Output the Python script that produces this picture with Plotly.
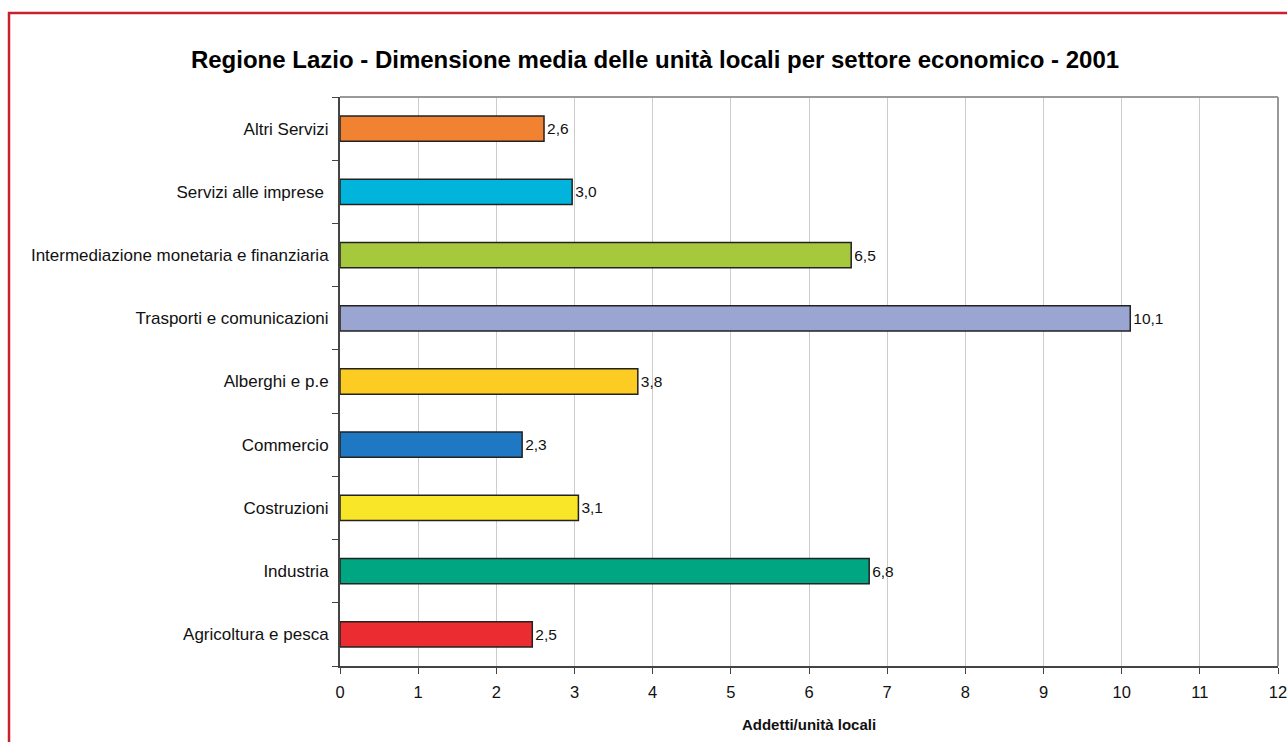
import plotly.graph_objects as go

categories = ["Agricoltura e pesca", "Industria", "Costruzioni", "Commercio",
              "Alberghi e p.e", "Trasporti e comunicazioni",
              "Intermediazione monetaria e finanziaria", "Servizi alle imprese ", "Altri Servizi"]
values = [2.46, 6.77, 3.05, 2.33, 3.81, 10.11, 6.54, 2.97, 2.61]
labels = ["2,5", "6,8", "3,1", "2,3", "3,8", "10,1", "6,5", "3,0", "2,6"]
colors = ["#EB2D32", "#00A582", "#FAE628", "#1E78C3", "#FCCC23",
          "#9BA5D2", "#A5C83C", "#00B4DC", "#F08232"]
x_ticks = list(range(0, 13))

W, H = 1287, 742
L, R, T, B = 340, 9, 97, 76
pw, ph = W - L - R, H - T - B

fig = go.Figure(go.Bar(
    y=categories, x=values, orientation="h",
    marker=dict(color=colors, line=dict(color="#222222", width=1.5)),
    text=labels, textposition="outside", cliponaxis=False,
    textfont=dict(family="Liberation Sans, Arial", size=15.5, color="#111111"),
    hoverinfo="skip",
))

fig.update_layout(
    width=W, height=H, margin=dict(l=L, r=R, t=T, b=B, autoexpand=False),
    paper_bgcolor="white", plot_bgcolor="white",
    bargap=0.6, showlegend=False,
    font=dict(family="Liberation Sans, Arial", size=16, color="#111111"),
    title=dict(text="<b>Regione Lazio - Dimensione media delle unità locali per settore economico - 2001</b>",
               x=655 / W, xref="container", xanchor="center",
               y=1 - 60 / H, yref="container", yanchor="middle",
               font=dict(size=24, color="#000000")),
    xaxis=dict(range=[0, 12], tickvals=x_ticks, ticktext=[str(v) for v in x_ticks],
               showgrid=True, gridcolor="#CCCCCC", gridwidth=1,
               showline=True, linecolor="#444444", linewidth=2,
               ticks="outside", ticklen=6, tickcolor="#444444",
               tickfont=dict(size=16.5), zeroline=False, automargin=False,
               ticklabeloverflow="allow", ticklabelstandoff=4,
               title=dict(text="<b>Addetti/unità locali</b>", font=dict(size=15), standoff=20)),
    yaxis=dict(showline=True, linecolor="#444444", linewidth=2,
               ticks="outside", tickson="boundaries", ticklen=6, tickcolor="#444444",
               tickfont=dict(size=17), showgrid=False, ticklabelstandoff=6,
               automargin=False),
    shapes=[
        dict(type="line", xref="paper", yref="paper", x0=0, x1=1, y0=1, y1=1,
             line=dict(color="#999999", width=2)),
        dict(type="line", xref="paper", yref="paper", x0=1, x1=1, y0=0, y1=1,
             line=dict(color="#999999", width=2)),
        dict(type="rect", xref="paper", yref="paper",
             x0=(9 - L) / pw, x1=(W + 10 - L) / pw,
             y0=(H - B - (H + 10)) / ph, y1=(H - B - 13) / ph,
             line=dict(color="#C8202E", width=2.5), fillcolor="rgba(0,0,0,0)"),
    ],
)

fig.write_html("out.html")
